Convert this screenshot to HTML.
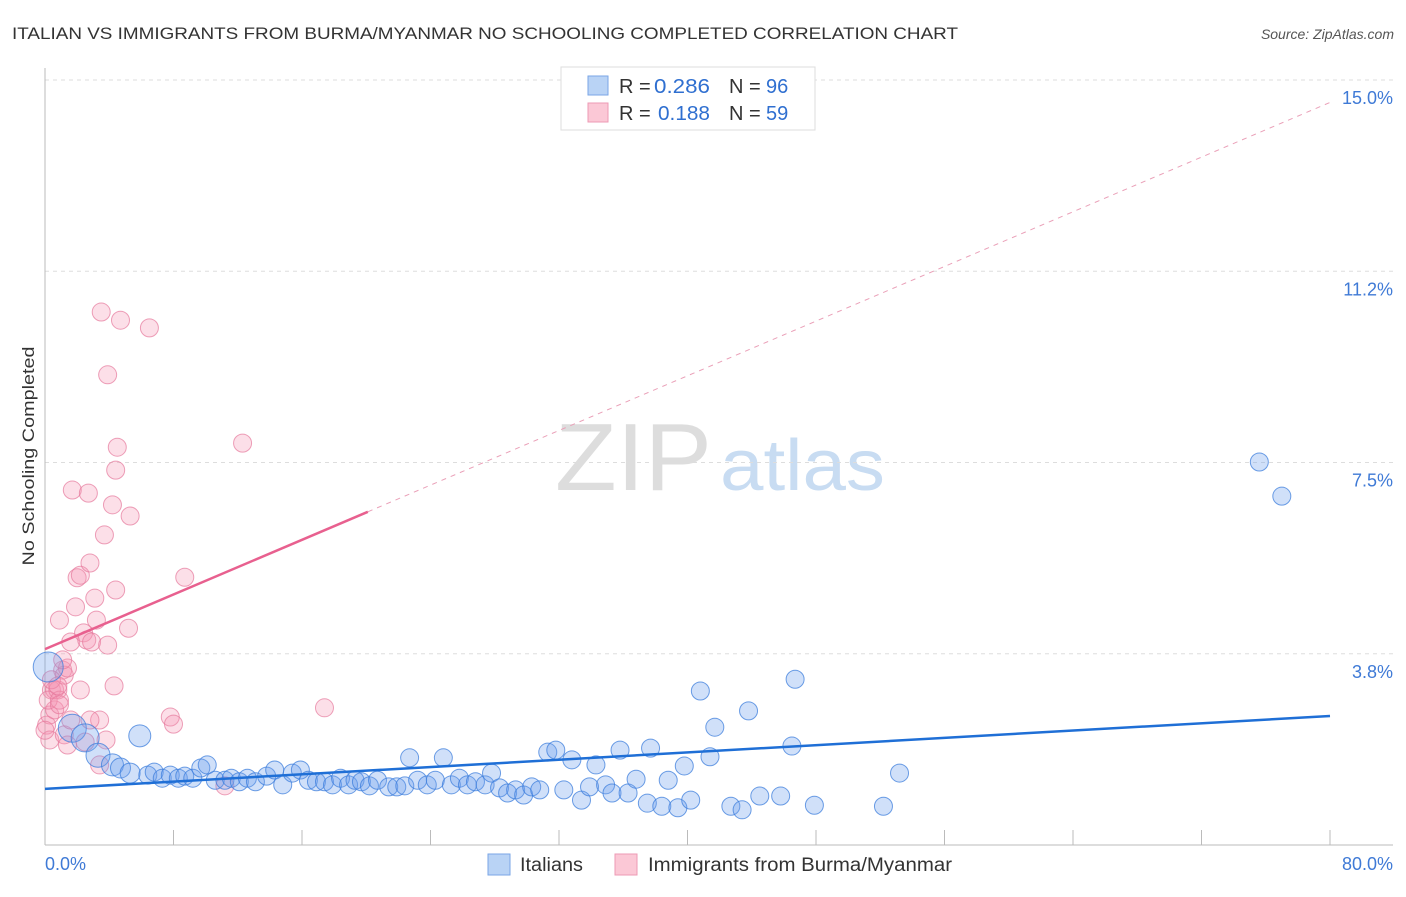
<!DOCTYPE html>
<html><head><meta charset="utf-8"><style>
body{margin:0;background:#fff;font-family:"Liberation Sans",sans-serif;}
svg text{font-family:"Liberation Sans",sans-serif;}
</style></head><body>
<svg id="chart" width="1406" height="892" xmlns="http://www.w3.org/2000/svg">
<text x="12" y="39" font-size="17" fill="#333" textLength="946" lengthAdjust="spacingAndGlyphs">ITALIAN VS IMMIGRANTS FROM BURMA/MYANMAR NO SCHOOLING COMPLETED CORRELATION CHART</text>
<text x="1394" y="39" font-size="14" fill="#555" font-style="italic" text-anchor="end">Source: ZipAtlas.com</text>
<text transform="translate(34,456) rotate(-90)" font-size="17" fill="#333" text-anchor="middle" textLength="219" lengthAdjust="spacingAndGlyphs">No Schooling Completed</text>
<g>
<text x="555" y="490" font-size="96" font-family="Liberation Serif" fill="#ddd" textLength="157" lengthAdjust="spacingAndGlyphs">ZIP</text>
<text x="720" y="490" font-size="72" fill="#c8dcf2" textLength="165" lengthAdjust="spacingAndGlyphs">atlas</text>
</g>
<g id="grid"></g>
<g id="axes"></g>
<g id="marks"></g>
<g>
<rect x="561" y="67" width="254" height="63" fill="#fff" stroke="#ddd"/>
<rect x="588" y="76" width="20" height="19" fill="#b9d3f5" stroke="#7aa6e6"/>
<rect x="588" y="103" width="20" height="19" fill="#fbc8d6" stroke="#ee9ab4"/>
<text x="619" y="93" font-size="20" fill="#333">R = </text>
<text x="654" y="93" font-size="20" fill="#2f6fd0" textLength="56" lengthAdjust="spacingAndGlyphs">0.286</text>
<text x="729" y="93" font-size="20" fill="#333">N = </text>
<text x="766" y="93" font-size="20" fill="#2f6fd0">96</text>
<text x="619" y="120" font-size="20" fill="#333">R = </text>
<text x="658" y="120" font-size="20" fill="#2f6fd0" textLength="52" lengthAdjust="spacingAndGlyphs">0.188</text>
<text x="729" y="120" font-size="20" fill="#333">N = </text>
<text x="766" y="120" font-size="20" fill="#2f6fd0">59</text>
</g>
<g>
<rect x="488" y="854" width="22" height="21" fill="#b9d3f5" stroke="#7aa6e6"/>
<text x="520" y="871" font-size="19" fill="#333" textLength="63" lengthAdjust="spacingAndGlyphs">Italians</text>
<rect x="615" y="854" width="22" height="21" fill="#fbc8d6" stroke="#ee9ab4"/>
<text x="648" y="871" font-size="19" fill="#333" textLength="304" lengthAdjust="spacingAndGlyphs">Immigrants from Burma/Myanmar</text>
</g>
</svg>
<script>
const xTicks=[0,8,16,24,32,40,48,56,64,72,80];
const yTicks=[3.75,7.5,11.25,15];
const yTickLabels=["3.8%","7.5%","11.2%","15.0%"];
const blueX=[0.2,1.7,2.5,3.3,4.2,4.7,5.3,5.9,6.4,6.8,7.3,7.8,8.3,8.7,9.2,9.7,10.1,10.6,11.2,11.6,12.1,12.6,13.1,13.8,14.3,14.8,15.4,15.9,16.4,16.9,17.4,17.9,18.4,18.9,19.3,19.7,20.2,20.7,21.4,21.9,22.4,22.7,23.2,23.8,24.3,24.8,25.3,25.8,26.3,26.8,27.4,27.8,28.3,28.8,29.3,29.8,30.3,30.8,31.3,31.8,32.3,32.8,33.4,33.9,34.3,34.9,35.3,35.8,36.3,36.8,37.5,37.7,38.4,38.8,39.4,39.8,40.2,40.8,41.4,41.7,42.7,43.4,43.8,44.5,45.8,46.5,46.7,47.9,52.2,53.2,75.6,77.0];
const blueY=[3.49,2.29,2.10,1.76,1.57,1.51,1.41,2.14,1.37,1.43,1.31,1.37,1.31,1.35,1.31,1.51,1.57,1.27,1.27,1.31,1.24,1.31,1.24,1.35,1.47,1.18,1.41,1.47,1.27,1.24,1.24,1.18,1.31,1.18,1.27,1.24,1.16,1.27,1.14,1.14,1.16,1.71,1.27,1.18,1.27,1.71,1.18,1.31,1.18,1.24,1.18,1.41,1.12,1.02,1.08,0.98,1.14,1.08,1.82,1.86,1.08,1.67,0.88,1.14,1.57,1.18,1.02,1.86,1.02,1.29,0.82,1.90,0.76,1.27,0.73,1.55,0.88,3.02,1.73,2.31,0.76,0.69,2.63,0.96,0.96,1.94,3.25,0.78,0.76,1.41,7.51,6.84];
const blueSize=[15,14,14,12,11,10,10,11];
const pinkX=[0.1,0.3,0.4,0.6,0.8,0.9,1.1,1.2,1.4,1.6,1.7,1.9,2.0,2.2,2.4,2.6,2.7,2.8,2.9,3.1,3.2,3.4,3.5,3.7,3.8,3.9,3.9,4.2,4.3,4.4,4.4,4.5,4.7,5.2,5.3,6.5,7.8,8.0,8.7,11.2,12.3,17.4,0.6,0.2,0.3,0.9,1.2,2.2,2.5,3.4,1.4,2.8,0.9,0.4,1.1,1.6,0.8,0.0];
const pinkY=[2.35,2.55,3.04,3.04,3.04,4.41,3.43,3.33,3.47,3.98,6.96,4.67,5.24,5.29,4.16,4.02,6.90,5.53,3.98,4.84,4.41,2.45,10.45,6.08,2.06,9.22,3.92,6.67,3.12,5.00,7.35,7.80,10.29,4.25,6.45,10.14,2.51,2.37,5.25,1.16,7.88,2.69,2.65,2.84,2.06,2.84,2.16,3.04,2.02,1.57,1.96,2.45,2.75,3.24,3.63,2.45,3.12,2.25];
const blueLine=[1.10,2.53];
const pinkLine=[3.84,0.134];
const X0=45,X1=1330,Y0=845,PXY=(845-80)/15;
const sx=v=>X0+(X1-X0)*v/80;
const sy=v=>Y0-v*PXY;
const NS="http://www.w3.org/2000/svg";
function mk(t,a,p){const e=document.createElementNS(NS,t);for(const k in a)e.setAttribute(k,a[k]);p.appendChild(e);return e;}
const grid=document.getElementById('grid'),axes=document.getElementById('axes'),marks=document.getElementById('marks');
yTicks.forEach((v,i)=>{
 const l=mk('line',{x1:X0,x2:1393,y1:sy(v),y2:sy(v),stroke:'#ddd','stroke-dasharray':'4,4'},grid);
 
 
 const t=mk('text',{x:1393,y:sy(v)+24,'font-size':18,fill:'#3f7ad6','text-anchor':'end'},axes);
 t.textContent=yTickLabels[i];
 
 
});
const ya=mk('line',{x1:X0,x2:X0,y1:68,y2:Y0,stroke:'#bbb'},axes);


const xa=mk('line',{x1:X0,x2:1393,y1:Y0,y2:Y0,stroke:'#bbb'},axes);


xTicks.forEach(v=>{
 const t=mk('line',{x1:sx(v),x2:sx(v),y1:Y0-15,y2:Y0,stroke:'#bbb'},axes);
 
 
});
const xl0=mk('text',{x:45,y:870,'font-size':18,fill:'#3f7ad6'},axes);xl0.textContent='0.0%';


const xl1=mk('text',{x:1393,y:870,'font-size':18,fill:'#3f7ad6','text-anchor':'end'},axes);xl1.textContent='80.0%';


pinkX.forEach((v,i)=>{
 const c=mk('circle',{cx:sx(v),cy:sy(pinkY[i]),r:9,fill:'rgba(244,150,180,0.3)',stroke:'rgba(230,120,155,0.7)','stroke-width':1},marks);
 
 
});
blueX.forEach((v,i)=>{
 const c=mk('circle',{cx:sx(v),cy:sy(blueY[i]),r:blueSize[i]||9,fill:'rgba(110,160,235,0.32)',stroke:'rgba(60,125,220,0.75)','stroke-width':1},marks);
 
 
});
const bl=mk('line',{x1:sx(0),y1:sy(blueLine[0]),x2:sx(80),y2:sy(blueLine[1]),stroke:'#1f6fd6','stroke-width':2.5},marks);


const pe=20.1;
const pl=mk('line',{x1:sx(0),y1:sy(pinkLine[0]),x2:sx(pe),y2:sy(pinkLine[0]+pinkLine[1]*pe),stroke:'#e8608f','stroke-width':2.5},marks);


const pd=mk('line',{x1:sx(pe),y1:sy(pinkLine[0]+pinkLine[1]*pe),x2:sx(80),y2:sy(pinkLine[0]+pinkLine[1]*80),stroke:'#eaa0b8','stroke-width':1,'stroke-dasharray':'5,5'},marks);


</script>
</body></html>
